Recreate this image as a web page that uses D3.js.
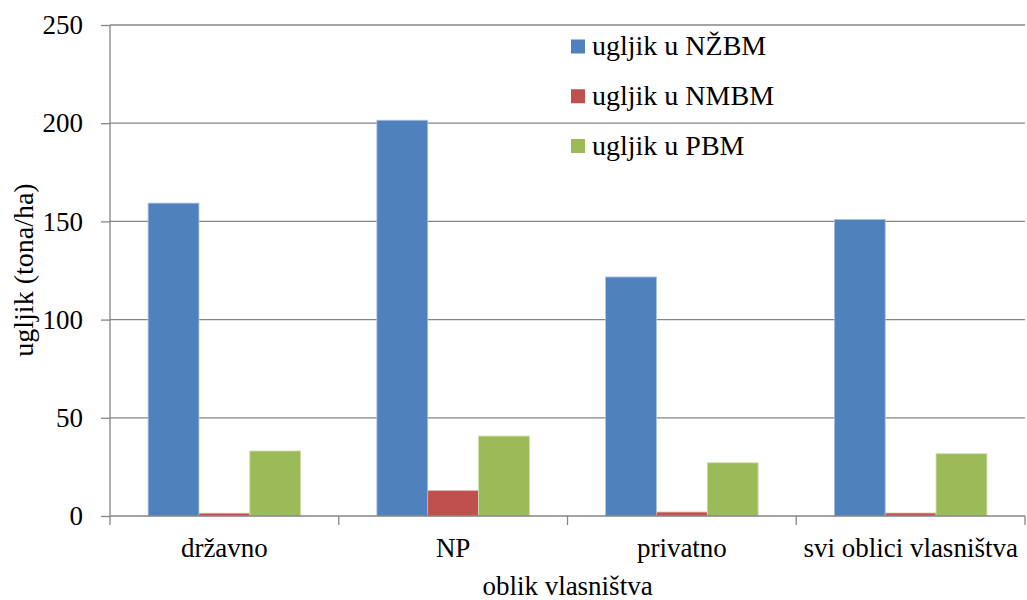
<!DOCTYPE html>
<html><head><meta charset="utf-8">
<script src="https://cdn.jsdelivr.net/npm/d3@7"></script>
<style>body{margin:0;background:#fff}svg text{font-family:"Liberation Serif","Times New Roman",serif;fill:#000}</style>
</head><body><svg id="c" width="1027" height="600"></svg>
<script>
const categories = ["državno", "NP", "privatno", "svi oblici vlasništva"];
const seriesNames = ["ugljik u NŽBM", "ugljik u NMBM", "ugljik u PBM"];
const nzbm = [159.3, 201.5, 121.7, 151.0];
const nmbm = [1.4, 12.9, 2.0, 1.5];
const pbm = [33.1, 40.7, 27.1, 31.7];
const yTicks = [0, 50, 100, 150, 200, 250];
const colors = ["#4F81BD", "#C0504D", "#9BBB59"];
const strokes = ["#A9C0DE", "#DFA9A7", "#CDDDAC"];
const series = [nzbm, nmbm, pbm];

const svg = d3.select("#c");
const L = 110, R = 1025, T = 25, B = 516;
const FS = 27;
const x = d3.scaleBand().domain(categories).range([L, R]).paddingInner(0).paddingOuter(0);
const y = d3.scaleLinear().domain([0, 250]).range([B, T]);
const grey = "#868686";

// gridlines
svg.append("g").selectAll("line").data(yTicks.filter(d => d > 0)).join("line")
  .attr("x1", L).attr("x2", R).attr("y1", d => y(d)).attr("y2", d => y(d))
  .attr("stroke", grey).attr("stroke-width", 1.3);

// bars (gap width 150%)
const unit = x.bandwidth() / 4.5;
const sub = d3.scaleBand().domain(d3.range(3)).range([unit * 0.75, x.bandwidth() - unit * 0.75]).padding(0);
categories.forEach((c, i) => {
  series.forEach((s, j) => {
    svg.append("rect")
      .attr("x", x(c) + sub(j)).attr("width", sub.bandwidth())
      .attr("y", y(s[i])).attr("height", B - y(s[i]))
      .attr("fill", colors[j]).attr("stroke", strokes[j]).attr("stroke-width", 0.8);
  });
});

// y axis
const ya = svg.append("g").attr("transform", `translate(${L},0)`)
  .call(d3.axisLeft(y).tickValues(yTicks).tickSize(9).tickPadding(18));
ya.select(".domain").attr("stroke", grey).attr("stroke-width", 1.3).attr("d", `M-0,${T}V${B}`);
ya.selectAll(".tick line").attr("stroke", grey).attr("stroke-width", 1.3);
ya.selectAll(".tick text").attr("font-size", FS).attr("fill", "#000").attr("dy", "0.32em");

// x axis
const xa = svg.append("g").attr("transform", `translate(0,${B})`)
  .call(d3.axisBottom(x).tickSize(0).tickPadding(22));
xa.select(".domain").attr("stroke", grey).attr("stroke-width", 1.3).attr("d", `M${L},0H${R}`);
xa.selectAll(".tick text").attr("font-size", FS).attr("fill", "#000");
svg.append("g").selectAll("line").data(d3.range(categories.length + 1)).join("line")
  .attr("x1", d => L + d * x.step()).attr("x2", d => L + d * x.step())
  .attr("y1", B).attr("y2", B + 9).attr("stroke", grey).attr("stroke-width", 1.3);

// axis titles
svg.append("text").attr("transform", "translate(33,270) rotate(-90)").attr("text-anchor", "middle")
  .attr("font-size", 28).text("ugljik (tona/ha)");
svg.append("text").attr("x", (L + R) / 2).attr("y", 595).attr("text-anchor", "middle")
  .attr("font-size", FS).text("oblik vlasništva");

// legend
const lg = svg.append("g");
seriesNames.forEach((n, j) => {
  const cy = 46.5 + j * 49.75;
  lg.append("rect").attr("x", 571).attr("y", cy - 7).attr("width", 14).attr("height", 14).attr("fill", colors[j]);
  lg.append("text").attr("x", 592).attr("y", cy + 8.5).attr("font-size", 28).text(n);
});
</script></body></html>
